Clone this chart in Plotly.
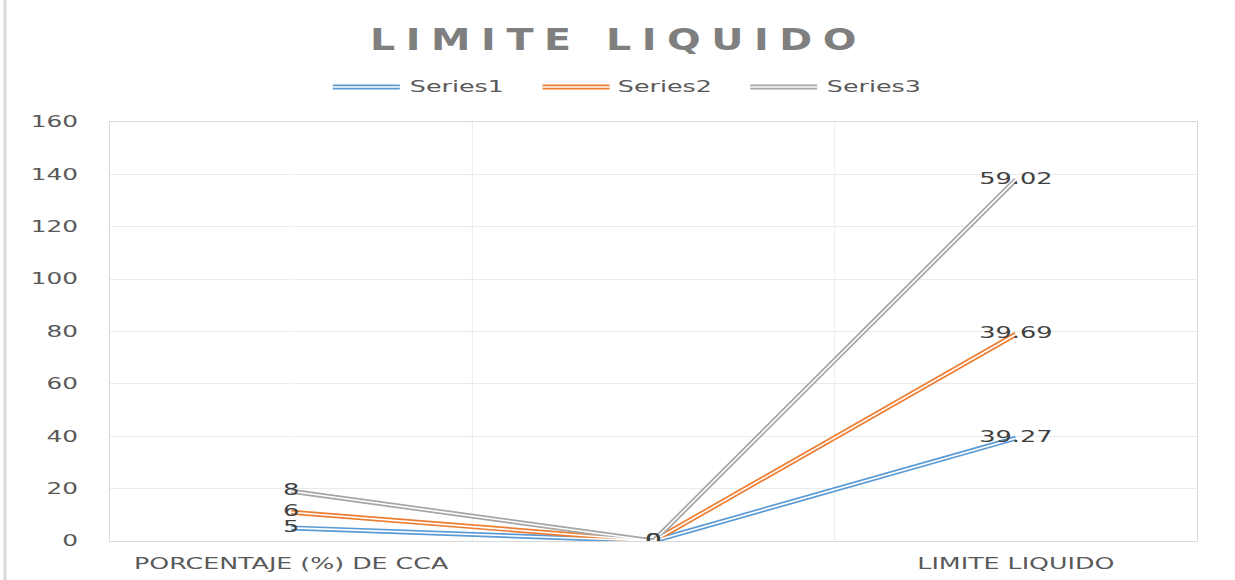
import plotly.graph_objects as go

categories = ["PORCENTAJE (%) DE CCA", "", "LIMITE LIQUIDO"]
series_names = ["Series1", "Series2", "Series3"]
series1 = [5, 0, 39.27]
series2 = [6, 0, 39.69]
series3 = [8, 0, 59.02]
colors = ["#5b9bd5", "#ed7d31", "#a5a5a5"]
y_ticks = [0, 20, 40, 60, 80, 100, 120, 140, 160]

FONT = "DejaVu Sans"
x = list(range(len(categories)))
all_series = [series1, series2, series3]

fig = go.Figure()
for name, vals, col in zip(series_names, all_series, colors):
    fig.add_trace(go.Scatter(x=x, y=vals, name=name, mode="lines", stackgroup="main",
                             fill="none", line=dict(color=col, width=5),
                             showlegend=False, hoverinfo="skip"))
for name, vals, col in zip(series_names, all_series, colors):
    fig.add_trace(go.Scatter(x=x, y=vals, mode="lines", stackgroup="inner",
                             fill="none", line=dict(color="white", width=1.6),
                             showlegend=False, hoverinfo="skip"))
for name, vals, col in zip(series_names, all_series, colors):
    fig.add_trace(go.Scatter(x=x, y=vals, mode="text", stackgroup="labels",
                             fill="none", text=[f"{v:g}" for v in vals],
                             textposition="middle center",
                             textfont=dict(family=FONT, size=16, color="#404040"),
                             showlegend=False, hoverinfo="skip"))

# custom legend with double lines
legend_line_x = [0.205, 0.398, 0.589]
legend_text_x = [0.3188, 0.5110, 0.7033]
for name, col, lx, tx in zip(series_names, colors, legend_line_x, legend_text_x):
    fig.add_shape(type="line", xref="paper", yref="paper", x0=lx, x1=lx + 0.0616,
                  y0=1.0835, y1=1.0835, line=dict(color=col, width=5))
    fig.add_shape(type="line", xref="paper", yref="paper", x0=lx, x1=lx + 0.0616,
                  y0=1.0835, y1=1.0835, line=dict(color="white", width=1.6))
    fig.add_annotation(xref="paper", yref="paper", x=tx, y=1.0835, text=name,
                       showarrow=False, xanchor="center", yanchor="middle",
                       font=dict(family=FONT, size=15, color="#595959"))

# outer chart border on left
fig.add_shape(type="line", xref="paper", yref="paper", x0=-0.0966, x1=-0.0966, y0=-0.1, y1=1.3,
              line=dict(color="#d9d9d9", width=3))

fig.update_layout(
    width=1235, height=580,
    margin=dict(l=110, r=38, t=122, b=39, autoexpand=False),
    paper_bgcolor="white", plot_bgcolor="white",
    title=dict(text="<b>LIMITE LIQUIDO</b>", x=0.5, xanchor="center", y=0.932, yanchor="middle",
               font=dict(family=FONT, size=30, color="#7f7f7f")),
    showlegend=False,
)
fig.update_xaxes(range=[-0.5, 2.5], tickvals=x, ticktext=categories, automargin=False,
                 showgrid=False, showline=True, linecolor="#d9d9d9", mirror=True,
                 ticklabelstandoff=8,
                 tickfont=dict(family=FONT, size=16, color="#595959"), ticks="")
for b in [0.5, 1.5]:
    fig.add_vline(x=b, line=dict(color="#ebebeb", width=1), layer="below")
fig.update_yaxes(range=[0, 160], tickvals=y_ticks, showgrid=True, gridcolor="#ebebeb",
                 showline=True, linecolor="#d9d9d9", mirror=True, zeroline=False,
                 ticklabelstandoff=28, automargin=False,
                 tickfont=dict(family=FONT, size=15, color="#595959"), ticks="")

post = """
document.body.style.margin = '0';
var stretch = function(sel, k, mode) {
  document.querySelectorAll(sel).forEach(function(e) {
    var w = e.getComputedTextLength();
    if (w > 0) {
      e.setAttribute('textLength', (w * k).toFixed(1));
      e.setAttribute('lengthAdjust', mode || 'spacingAndGlyphs');
    }
  });
};
stretch('.xtick text', 1.58);
stretch('.ytick text', 1.65);
stretch('.annotation-text', 1.69);
stretch('.textpoint text', 1.6);
var t = document.querySelector('.gtitle');
if (t) {
  t.style.letterSpacing = '8px';
  t.style.transformBox = 'fill-box';
  t.style.transformOrigin = '50% 50%';
  t.style.transform = 'scaleX(1.25)';
  var r = t.getBoundingClientRect();
  var s = 1.25 * 497 / r.width;
  t.style.transform = 'scaleX(' + s + ')';
  r = t.getBoundingClientRect();
  var dx = 618.5 - (r.left + r.right) / 2;
  t.style.transform = 'translateX(' + dx + 'px) scaleX(' + s + ')';
}
"""

fig.write_html("out.html", post_script=post, config={"displayModeBar": False})
